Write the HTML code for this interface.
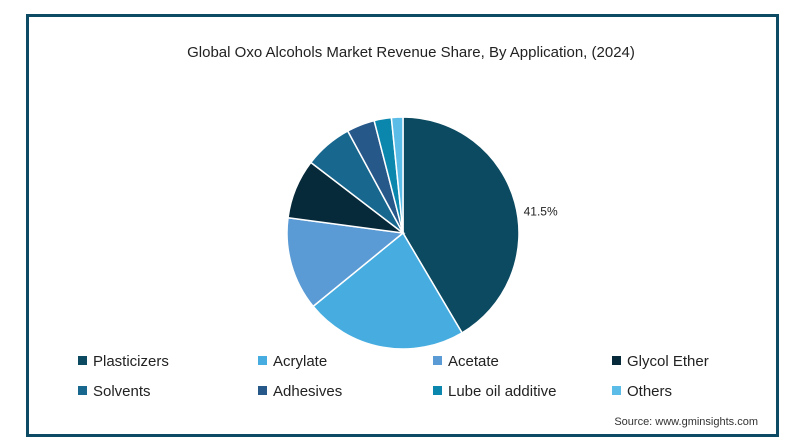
<!DOCTYPE html>
<html><head><meta charset="utf-8"><style>
body{margin:0;width:808px;height:445px;background:#fff;overflow:hidden;font-family:"Liberation Sans",sans-serif}
#frame{position:absolute;left:26px;top:14px;width:747px;height:417px;border:3px solid #0d4a63;background:#fff}
</style></head><body>
<div id="frame"></div>
<svg id="c" width="808" height="445" style="position:absolute;left:0;top:0">
<text x="411" y="57" text-anchor="middle" font-size="15" fill="#222">Global Oxo Alcohols Market Revenue Share, By Application, (2024)</text>
<text x="758" y="425" text-anchor="end" font-size="11" fill="#333">Source: www.gminsights.com</text>
</svg>
<script>
const categories=["Plasticizers","Acrylate","Acetate","Glycol Ether","Solvents","Adhesives","Lube oil additive","Others"];
const values=[41.5,22.6,13.0,8.3,6.7,3.9,2.4,1.6];
const colors=["#0b4a60","#47ade0","#5b9bd5","#072a3a","#17678f","#27588a","#0b87ad","#5bbce8"];
const labels=["41.5%"];
const svg=document.getElementById('c');const NS="http://www.w3.org/2000/svg";
const cx=403,cy=233,r=116;
const total=values.reduce((a,b)=>a+b,0);
let a0=0;
function pt(a,rr){return [cx+rr*Math.sin(a),cy-rr*Math.cos(a)];}
values.forEach((v,i)=>{
 const a1=a0+v/total*2*Math.PI;
 const p0=pt(a0,r),p1=pt(a1,r);
 const path=document.createElementNS(NS,'path');
 path.setAttribute('d',`M${cx},${cy}L${p0[0]},${p0[1]}A${r},${r} 0 ${a1-a0>Math.PI?1:0} 1 ${p1[0]},${p1[1]}Z`);
 path.setAttribute('fill',colors[i]);path.setAttribute('stroke','#fff');path.setAttribute('stroke-width','1.5');
 
 
 svg.appendChild(path);
 if(labels[i]){
  const am=(a0+a1)/2;const lp=pt(am,r+8);
  const t=document.createElementNS(NS,'text');
  t.setAttribute('x',lp[0]+1);t.setAttribute('y',lp[1]+15);t.setAttribute('font-size','12');t.setAttribute('fill','#222');
  t.textContent=labels[i];
  
  
  svg.appendChild(t);}
 a0=a1;
});
const colX=[78,258,433,612],rowY=[361,391];
categories.forEach((c,i)=>{
 const x=colX[i%4],y=rowY[Math.floor(i/4)];
 const g=document.createElementNS(NS,'g');
 
 
 const s=document.createElementNS(NS,'rect');s.setAttribute('x',x);s.setAttribute('y',y-5);s.setAttribute('width',9);s.setAttribute('height',9);s.setAttribute('fill',colors[i]);
 const t=document.createElementNS(NS,'text');t.setAttribute('x',x+15);t.setAttribute('y',y+5);t.setAttribute('font-size','15');t.setAttribute('fill','#222');t.textContent=c;
 g.appendChild(s);g.appendChild(t);svg.appendChild(g);
});
</script>
</body></html>
